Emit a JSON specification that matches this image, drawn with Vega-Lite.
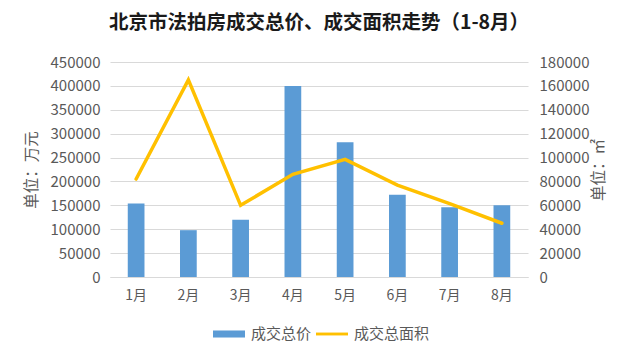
{
  "$schema": "https://vega.github.io/schema/vega-lite/v6.json",
  "width": 418,
  "height": 215,
  "autosize": {"type": "none"},
  "padding": {"left": 110, "top": 62, "right": 112, "bottom": 81},
  "background": "white",
  "title": {
    "text": "北京市法拍房成交总价、成交面积走势（1-8月）",
    "font": "Noto Sans CJK SC",
    "fontSize": 19.5,
    "fontWeight": "bold",
    "color": "#1a1a1a",
    "anchor": "middle",
    "offset": 22
  },
  "config": {
    "view": {"stroke": null},
    "font": "Noto Sans CJK SC",
    "axis": {
      "labelColor": "#595959",
      "titleColor": "#595959",
      "labelFont": "Noto Sans CJK SC",
      "titleFont": "Noto Sans CJK SC"
    }
  },
  "data": {
    "values": [
      {"month": "1月", "price": 154000, "area": 82000},
      {"month": "2月", "price": 98000, "area": 165000},
      {"month": "3月", "price": 120000, "area": 60000},
      {"month": "4月", "price": 400000, "area": 86000},
      {"month": "5月", "price": 282000, "area": 98500},
      {"month": "6月", "price": 172000, "area": 77000},
      {"month": "7月", "price": 146000, "area": 61500},
      {"month": "8月", "price": 150000, "area": 45000}
    ]
  },
  "encoding": {
    "x": {
      "field": "month",
      "type": "ordinal",
      "sort": null,
      "scale": {"paddingInner": 0.68, "paddingOuter": 0.34},
      "axis": {
        "title": null,
        "labelAngle": 0,
        "labelFontSize": 14,
        "labelPadding": 11,
        "ticks": false,
        "domainColor": "#d9d9d9",
        "domainWidth": 1
      }
    }
  },
  "layer": [
    {
      "mark": {"type": "bar", "color": "#5B9BD5"},
      "encoding": {
        "y": {
          "field": "price",
          "type": "quantitative",
          "scale": {"domain": [0, 450000], "nice": false},
          "axis": {
            "title": "单位：万元",
            "titleFontSize": 15.5,
            "titleFontWeight": "normal",
            "titlePadding": 11,
            "values": [0, 50000, 100000, 150000, 200000, 250000, 300000, 350000, 400000, 450000],
            "format": "d",
            "labelFontSize": 15,
            "labelPadding": 10,
            "ticks": false,
            "domain": false,
            "gridColor": "#d9d9d9",
            "gridWidth": 1
          }
        },
        "color": {
          "datum": "成交总价",
          "scale": {"domain": ["成交总价", "成交总面积"], "range": ["#5B9BD5", "#FFC000"]},
          "legend": {
            "title": null,
            "orient": "none",
            "legendX": 103,
            "legendY": 256,
            "direction": "horizontal",
            "labelFontSize": 15,
            "labelColor": "#595959",
            "labelFont": "Noto Sans CJK SC",
            "symbolSize": 1024,
            "columnPadding": 4,
            "labelOffset": 6,
            "encode": {
              "symbols": {
                "update": {
                  "shape": {"signal": "datum.value === '成交总价' ? 'M-1,-0.22H1V0.22H-1Z' : 'M-1,-0.09H1V0.09H-1Z'"},
                  "fill": {"scale": "color", "field": "value"},
                  "strokeWidth": {"value": 0},
                  "opacity": {"value": 1}
                }
              }
            }
          }
        }
      }
    },
    {
      "mark": {"type": "line", "strokeWidth": 3.5, "strokeJoin": "miter", "strokeCap": "round"},
      "encoding": {
        "y": {
          "field": "area",
          "type": "quantitative",
          "scale": {"domain": [0, 180000], "nice": false},
          "axis": {
            "orient": "right",
            "title": "单位：㎡",
            "titleAngle": -90,
            "titleFontSize": 15.5,
            "titleFontWeight": "normal",
            "titlePadding": 18,
            "values": [0, 20000, 40000, 60000, 80000, 100000, 120000, 140000, 160000, 180000],
            "format": "d",
            "labelFontSize": 15,
            "labelPadding": 11,
            "ticks": false,
            "domain": false,
            "grid": false
          }
        },
        "color": {"datum": "成交总面积"}
      }
    }
  ],
  "resolve": {"scale": {"y": "independent"}}
}
